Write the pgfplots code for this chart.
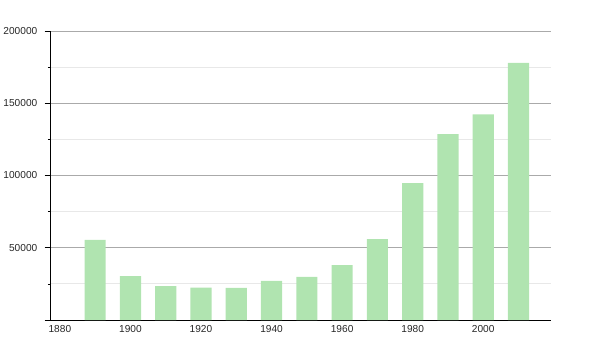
\documentclass[border=0pt]{standalone}
\usepackage{pgfplots}
\pgfplotsset{compat=1.18}
\usepackage{fontspec}
\setmainfont{Liberation Sans}
\definecolor{barg}{RGB}{176,228,176}
\definecolor{majg}{RGB}{170,170,170}
\definecolor{ming}{RGB}{232,232,232}
\begin{document}
\begin{tikzpicture}[x=0.75pt,y=0.75pt]
\useasboundingbox (-50*0.75pt,-30*0.75pt) rectangle (550*0.75pt,320*0.75pt);
\begin{axis}[
  at={(0,0)}, anchor=origin,
  scale only axis,
  width=376pt, height=216.75pt,
  xmin=1877.2, xmax=2019.3,
  ymin=0, ymax=200000,
  scaled y ticks=false,
  axis lines*=left,
  axis line style={black, line width=0.6pt},
  ytick={0,50000,100000,150000,200000},
  yticklabels={,50000,100000,150000,200000},
  minor ytick={25000,75000,125000,175000},
  xtick={1880,1900,1920,1940,1960,1980,2000},
  xticklabels={1880,1900,1920,1940,1960,1980,2000},
  xtick style={draw=none},
  ytick style={black, line width=0.5pt},
  major tick length=4pt,
  minor tick length=1.5pt,
  tick align=outside,
  ymajorgrids, yminorgrids,
  major grid style={majg, line width=0.7pt},
  minor grid style={ming, line width=0.7pt},
  yticklabel style={font=\fontsize{7.6}{9}\selectfont, text=black!85, xshift=-2pt},
  xticklabel style={font=\fontsize{7.6}{9}\selectfont, text=black!85, yshift=3.5pt},
  clip=false,
]
\addplot[ybar, bar width=6, fill=barg, draw=none] coordinates {
(1890,55500) (1900,30400) (1910,23500) (1920,22400) (1930,22300)
(1940,27000) (1950,29800) (1960,38000) (1970,56000) (1980,94800)
(1990,128700) (2000,142300) (2010,177900)
};
\end{axis}
\end{tikzpicture}
\end{document}
